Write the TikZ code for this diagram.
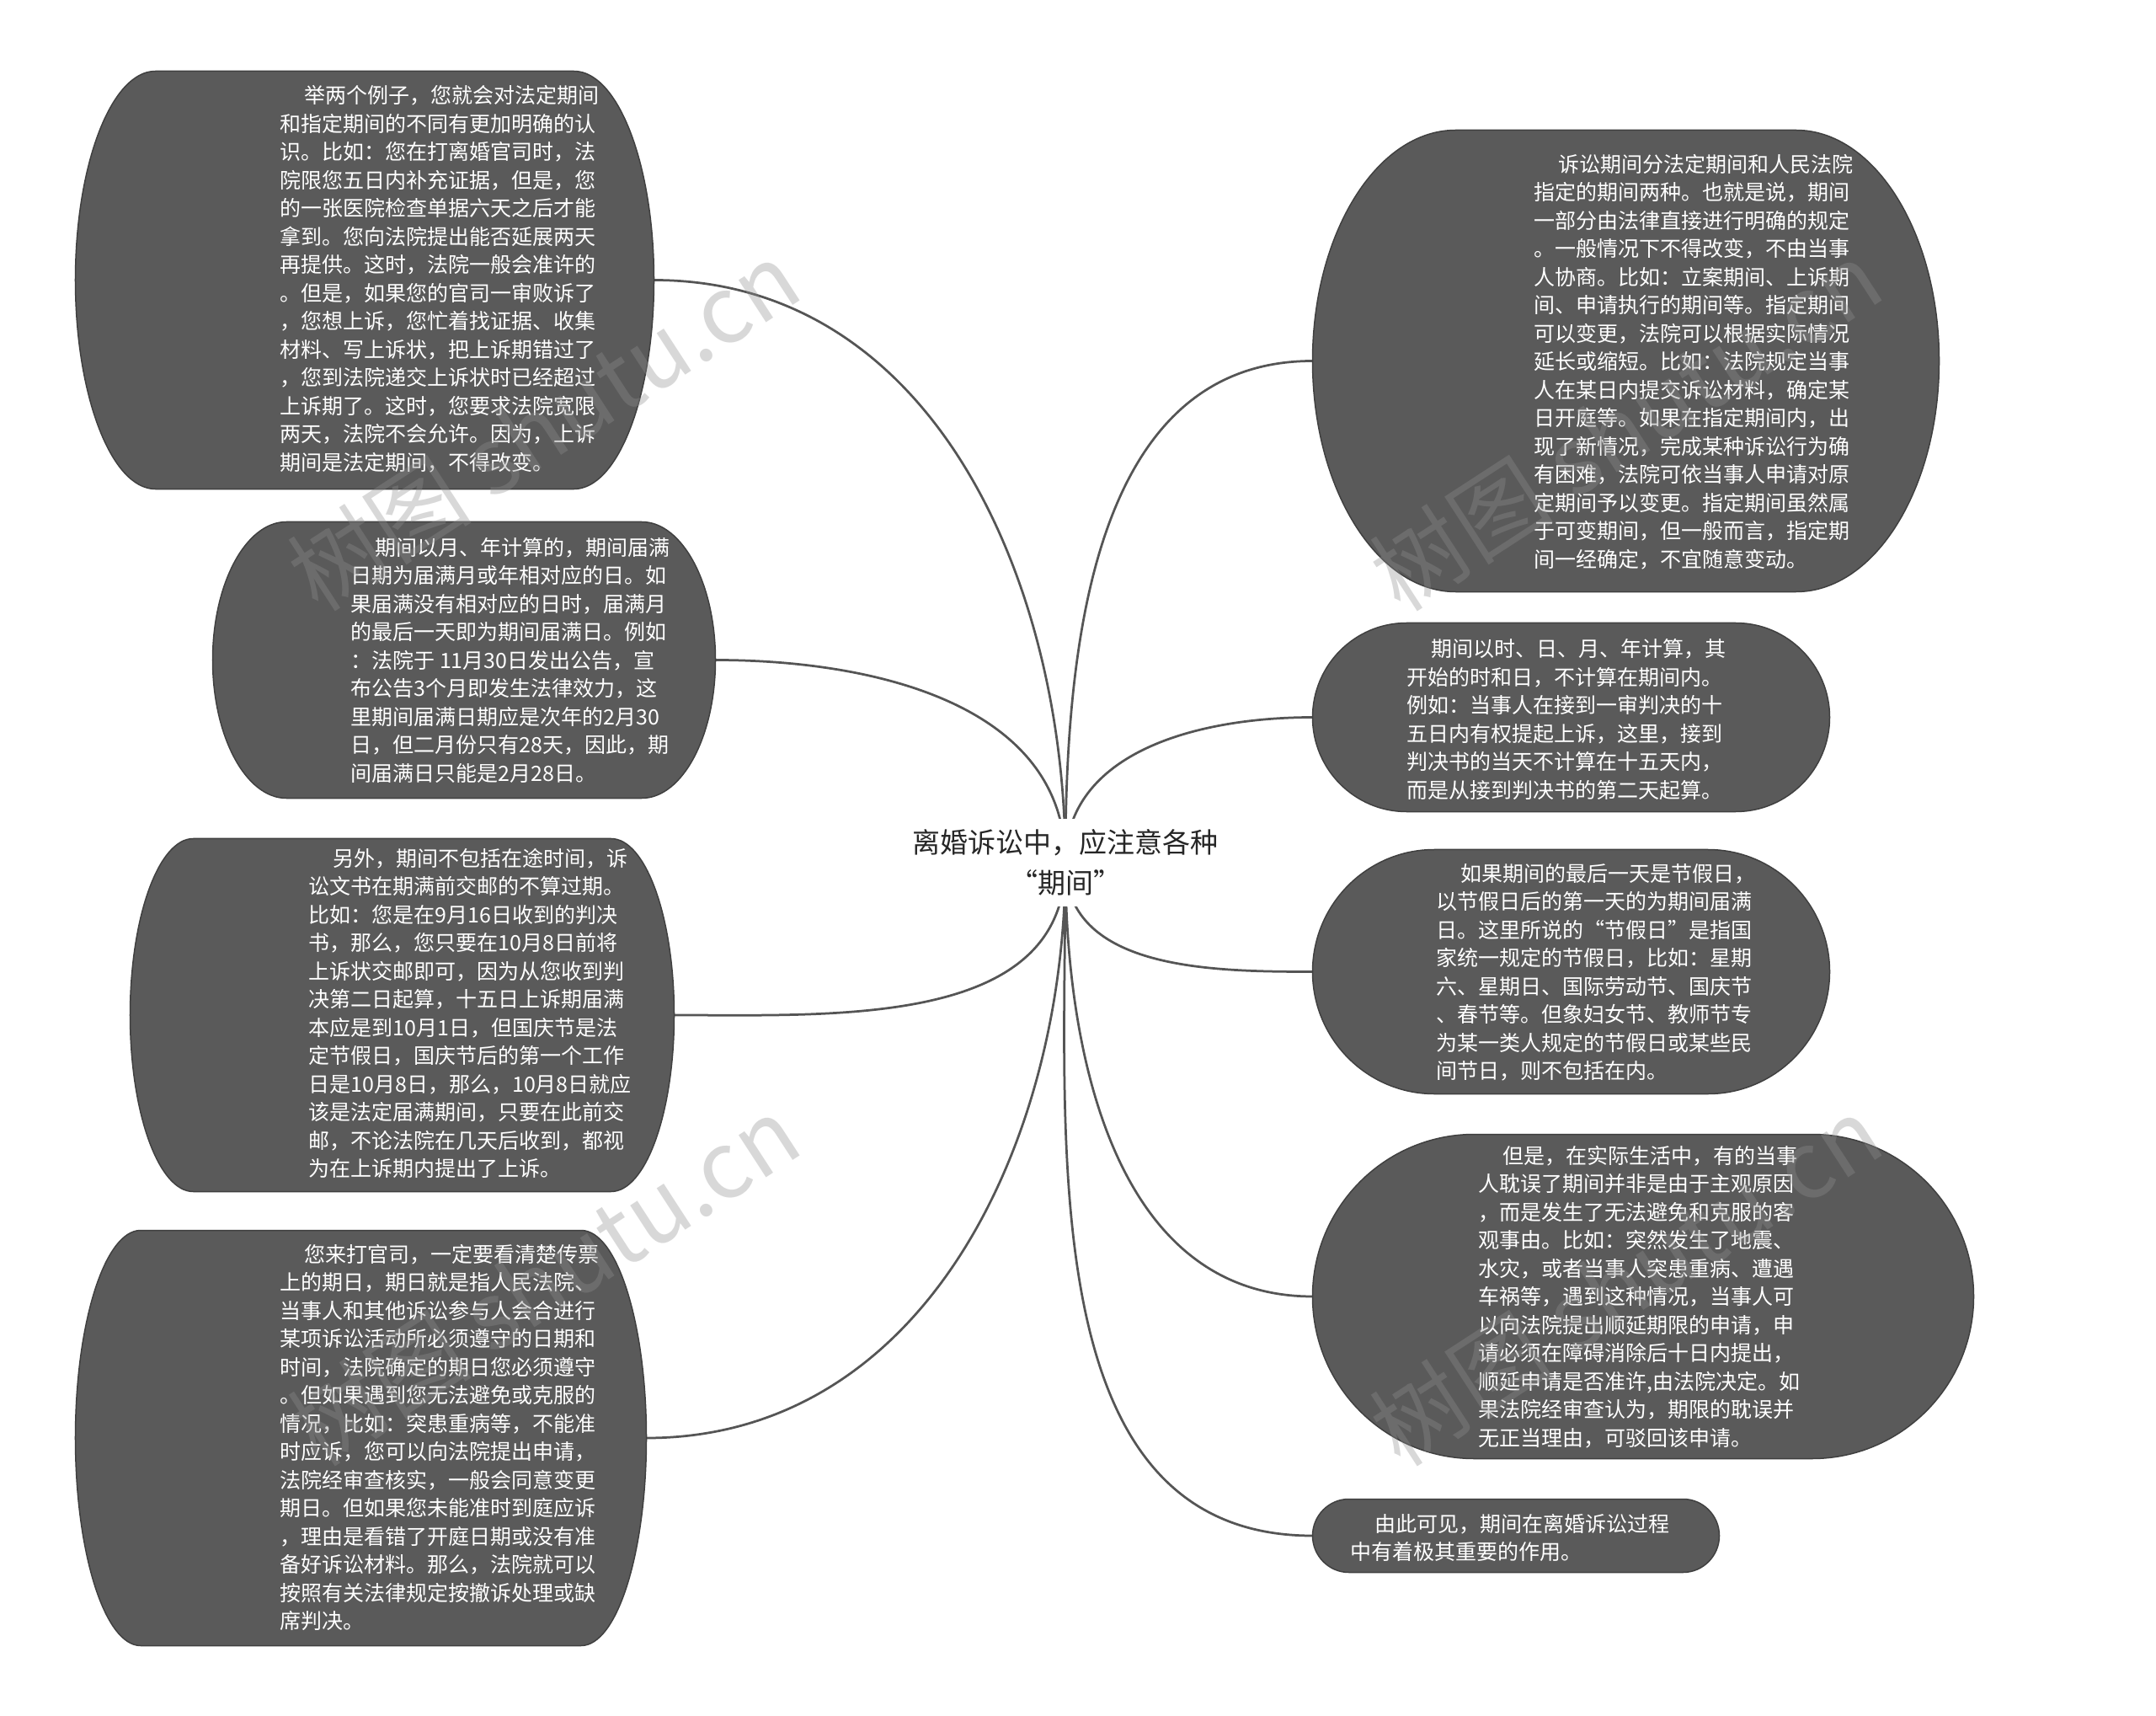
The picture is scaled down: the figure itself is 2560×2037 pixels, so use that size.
\documentclass[tikz,border=0pt]{standalone}
\usepackage{fontspec}
\newfontfamily\cjk{Noto Sans CJK SC}
\usetikzlibrary{positioning}
\definecolor{pillgray}{HTML}{5A5A5A}
\definecolor{rimgray}{HTML}{404040}
\definecolor{linkgray}{HTML}{555555}
\pgfdeclarelayer{back}
\pgfsetlayers{back,main}
\tikzset{
  every picture/.style={line join=round, line cap=round},
  spot/.style={rectangle, inner sep=0pt},
  pill/.style={fill=pillgray, draw=rimgray, line width=0.6pt},
  note/.style={anchor=west, align=left, inner sep=0pt, text=white, font=\cjk\fontsize{10}{13.4}\selectfont},
  title/.style={align=center, fill=white, inner xsep=5pt, inner ysep=5pt, text=black!85, font=\cjk\fontsize{13.2}{19.2}\selectfont},
  link/.style={draw=linkgray, line width=1.1pt},
  stamp/.style={rotate=33, text=black!44, text opacity=0.34, font=\cjk\fontsize{44}{44}\selectfont},
}
\newcommand{\ind}{\hspace*{1.16em}}
% rounded outline round a spot node: #1 node, #2 corner width, #3 corner height
\newcommand{\pillshape}[3]{%
  \pgfmathsetlengthmacro\pcx{0.552*#2}\pgfmathsetlengthmacro\pcy{0.552*#3}%
  \filldraw[pill] (#1.west) .. controls +(0pt,\pcy) and +(-\pcx,0pt) .. ([xshift=#2]#1.north west)
    -- ([xshift=-#2]#1.north east) .. controls +(\pcx,0pt) and +(0pt,\pcy) .. (#1.east)
    .. controls +(0pt,-\pcy) and +(\pcx,0pt) .. ([xshift=-#2]#1.south east)
    -- ([xshift=#2]#1.south west) .. controls +(-\pcx,0pt) and +(0pt,-\pcy) .. (#1.west) -- cycle;}

\begin{document}
\begin{tikzpicture}[x=0.4pt,y=-0.4pt]
\useasboundingbox (0,0) rectangle (2560,2037);
\begin{pgfonlayer}{back}
\fill[white] (0,0) rectangle (2560,2037);
\end{pgfonlayer}

% centre topic
\node[title] (root) at (1265,1024) {离婚诉讼中，应注意各种\\“期间”};

% left side
\node[spot, minimum width=274.4pt, minimum height=198pt] (tl) at (433,332.5) {};
\pillshape{tl}{38pt}{99pt}
\node[note] (tlt) at (331.7,331.5) {\ind 举两个例子，您就会对法定期间\\
和指定期间的不同有更加明确的认\\
识。比如：您在打离婚官司时，法\\
院限您五日内补充证据，但是，您\\
的一张医院检查单据六天之后才能\\
拿到。您向法院提出能否延展两天\\
再提供。这时，法院一般会准许的\\
。但是，如果您的官司一审败诉了\\
，您想上诉，您忙着找证据、收集\\
材料、写上诉状，把上诉期错过了\\
，您到法院递交上诉状时已经超过\\
上诉期了。这时，您要求法院宽限\\
两天，法院不会允许。因为，上诉\\
期间是法定期间，不得改变。};

\node[spot, minimum width=238.4pt, minimum height=130.8pt] (l2) at (551,783.5) {};
\pillshape{l2}{35pt}{65.4pt}
\node[note] (l2t) at (416,783.5) {\ind 期间以月、年计算的，期间届满\\
日期为届满月或年相对应的日。如\\
果届满没有相对应的日时，届满月\\
的最后一天即为期间届满日。例如\\
：法院于 11月30日发出公告，宣\\
布公告3个月即发生法律效力，这\\
里期间届满日期应是次年的2月30\\
日，但二月份只有28天，因此，期\\
间届满日只能是2月28日。};

\node[spot, minimum width=258pt, minimum height=167.2pt] (l3) at (477.5,1205) {};
\pillshape{l3}{30pt}{83.6pt}
\node[note] (l3t) at (366,1203) {\ind 另外，期间不包括在途时间，诉\\
讼文书在期满前交邮的不算过期。\\
比如：您是在9月16日收到的判决\\
书，那么，您只要在10月8日前将\\
上诉状交邮即可，因为从您收到判\\
决第二日起算，十五日上诉期届满\\
本应是到10月1日，但国庆节是法\\
定节假日，国庆节后的第一个工作\\
日是10月8日，那么，10月8日就应\\
该是法定届满期间，只要在此前交\\
邮，不论法院在几天后收到，都视\\
为在上诉期内提出了上诉。};

\node[spot, minimum width=270.8pt, minimum height=196.8pt] (l4) at (428.5,1707) {};
\pillshape{l4}{31pt}{98.4pt}
\node[note] (l4t) at (332,1706.5) {\ind 您来打官司，一定要看清楚传票\\
上的期日，期日就是指人民法院、\\
当事人和其他诉讼参与人会合进行\\
某项诉讼活动所必须遵守的日期和\\
时间，法院确定的期日您必须遵守\\
。但如果遇到您无法避免或克服的\\
情况，比如：突患重病等，不能准\\
时应诉，您可以向法院提出申请，\\
法院经审查核实，一般会同意变更\\
期日。但如果您未能准时到庭应诉\\
，理由是看错了开庭日期或没有准\\
备好诉讼材料。那么，法院就可以\\
按照有关法律规定按撤诉处理或缺\\
席判决。};

% right side
\node[spot, minimum width=297.2pt, minimum height=218.8pt] (r1) at (1930.5,428.5) {};
\pillshape{r1}{68pt}{109.4pt}
\node[note] (r1t) at (1821,429.5) {\ind 诉讼期间分法定期间和人民法院\\
指定的期间两种。也就是说，期间\\
一部分由法律直接进行明确的规定\\
。一般情况下不得改变，不由当事\\
人协商。比如：立案期间、上诉期\\
间、申请执行的期间等。指定期间\\
可以变更，法院可以根据实际情况\\
延长或缩短。比如：法院规定当事\\
人在某日内提交诉讼材料，确定某\\
日开庭等。如果在指定期间内，出\\
现了新情况，完成某种诉讼行为确\\
有困难，法院可依当事人申请对原\\
定期间予以变更。指定期间虽然属\\
于可变期间，但一般而言，指定期\\
间一经确定，不宜随意变动。};

\node[spot, minimum width=245.2pt, minimum height=89.2pt] (r2) at (1865.5,851.5) {};
\pillshape{r2}{44.6pt}{44.6pt}
\node[note] (r2t) at (1670,854) {\ind 期间以时、日、月、年计算，其\\
开始的时和日，不计算在期间内。\\
例如：当事人在接到一审判决的十\\
五日内有权提起上诉，这里，接到\\
判决书的当天不计算在十五天内，\\
而是从接到判决书的第二天起算。};

\node[spot, minimum width=245.2pt, minimum height=115.6pt] (r3) at (1865.5,1153.5) {};
\pillshape{r3}{57.8pt}{57.8pt}
\node[note] (r3t) at (1705,1154.5) {\ind 如果期间的最后一天是节假日，\\
以节假日后的第一天的为期间届满\\
日。这里所说的“节假日”是指国\\
家统一规定的节假日，比如：星期\\
六、星期日、国际劳动节、国庆节\\
、春节等。但象妇女节、教师节专\\
为某一类人规定的节假日或某些民\\
间节日，则不包括在内。};

\node[spot, minimum width=313.6pt, minimum height=153.6pt] (r4) at (1951,1539) {};
\pillshape{r4}{76.8pt}{76.8pt}
\node[note] (r4t) at (1755,1539.5) {\ind 但是，在实际生活中，有的当事\\
人耽误了期间并非是由于主观原因\\
，而是发生了无法避免和克服的客\\
观事由。比如：突然发生了地震、\\
水灾，或者当事人突患重病、遭遇\\
车祸等，遇到这种情况，当事人可\\
以向法院提出顺延期限的申请，申\\
请必须在障碍消除后十日内提出，\\
顺延申请是否准许,由法院决定。如\\
果法院经审查认为，期限的耽误并\\
无正当理由，可驳回该申请。};

\node[spot, minimum width=192.8pt, minimum height=34.4pt] (r5) at (1800,1823) {};
\pillshape{r5}{17.2pt}{17.2pt}
\node[note] (r5t) at (1603,1825.5) {\ind 由此可见，期间在离婚诉讼过程\\
中有着极其重要的作用。};

% branches
\begin{pgfonlayer}{back}
\draw[link] (root.center) .. controls +(0,-332) and +(332,0) .. (tl.east);
\draw[link] (root.center) .. controls +(0,-188) and +(188,0) .. (l2.east);
\draw[link] (root.center) .. controls +(0,195) and +(195,0) .. (l3.east);
\draw[link] (root.center) .. controls +(0,331) and +(331,0) .. (l4.east);
\draw[link] (root.center) .. controls +(0,-260) and +(-260,0) .. (r1.west);
\draw[link] (root.center) .. controls +(0,-133) and +(-133,0) .. (r2.west);
\draw[link] (root.center) .. controls +(0,126) and +(-126,0) .. (r3.west);
\draw[link] (root.center) .. controls +(0,232) and +(-232,0) .. (r4.west);
\draw[link] (root.center) .. controls +(0,333) and +(-333,0) .. (r5.west);
\end{pgfonlayer}

% watermark
\node[stamp] (wm1) at (645,505) {树图 shutu.cn};
\node[stamp] (wm2) at (645,1520) {树图 shutu.cn};
\node[stamp] (wm3) at (1930,505) {树图 shutu.cn};
\node[stamp] (wm4) at (1930,1520) {树图 shutu.cn};
\end{tikzpicture}
\end{document}
